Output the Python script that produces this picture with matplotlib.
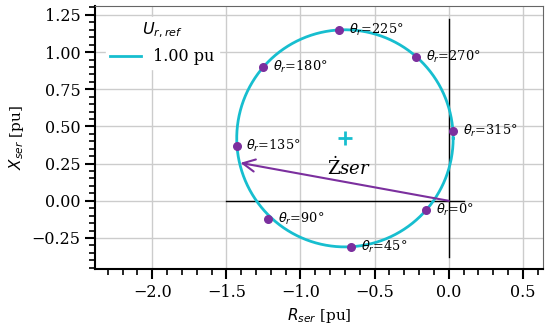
import numpy as np
import matplotlib
matplotlib.use("Agg")
import matplotlib.pyplot as plt
from matplotlib.ticker import MultipleLocator

# operating points
theta_labels = [0, 45, 90, 135, 180, 225, 270, 315]
r_points = [-0.15, -0.66, -1.22, -1.43, -1.25, -0.74, -0.22, 0.03]
x_points = [-0.06, -0.31, -0.12, 0.37, 0.90, 1.15, 0.97, 0.47]

# locus circle for U_r,ref = 1.00 pu
circle_center = (-0.70, 0.42)
circle_radius = 0.73
legend_label = "1.00 pu"

# series impedance phasor tip
z_ser_tip = (-1.405, 0.255)

plt.rcParams["font.family"] = "DejaVu Serif"
plt.rcParams["font.size"] = 10

cyan = "#17becf"
purple = "#7b2f9e"

fig = plt.figure(figsize=(5.5, 3.32), dpi=100)
ax = fig.add_axes([0.173, 0.19, 0.814, 0.792])

phi = np.linspace(0, 2 * np.pi, 400)
ax.plot(circle_center[0] + circle_radius * np.cos(phi),
        circle_center[1] + circle_radius * np.sin(phi),
        color=cyan, lw=2, label=legend_label, zorder=3)
ax.plot(*circle_center, marker="+", color=cyan, ms=10, mew=2, zorder=3)

# axes cross
ax.plot([-1.5, 0.1], [0, 0], color="black", lw=1, zorder=2)
ax.plot([0, 0], [-0.38, 1.225], color="black", lw=1, zorder=2)

ax.annotate("", xy=z_ser_tip, xytext=(0, 0),
            arrowprops=dict(arrowstyle="->", color=purple, lw=1.5,
                            mutation_scale=22, shrinkA=0, shrinkB=0),
            zorder=4)
ax.text(-0.67, 0.22, r"$\dot{\mathrm{Z}}\mathit{ser}$", fontsize=13,
        math_fontfamily="dejavuserif", ha="center", va="center")

ax.scatter(r_points, x_points, s=30, color=purple, zorder=5)
for th, r, x in zip(theta_labels, r_points, x_points):
    ax.annotate(r"$\theta_r$=%d°" % th, (r, x), xytext=(7, 0),
                textcoords="offset points", ha="left", va="center",
                fontsize=9.3, zorder=6)

ax.set_xlim(-2.385, 0.635)
ax.set_ylim(-0.458, 1.31)
ax.xaxis.set_major_locator(MultipleLocator(0.5))
ax.xaxis.set_minor_locator(MultipleLocator(0.1))
ax.yaxis.set_major_locator(MultipleLocator(0.25))
ax.yaxis.set_minor_locator(MultipleLocator(0.05))
ax.tick_params(which="major", direction="out", length=7, width=1.5,
               labelsize=11.5)
ax.tick_params(which="minor", direction="out", length=4, width=1.2)
ax.grid(True, which="major", color="#cccccc", lw=1)
ax.set_axisbelow(True)
for side in ["top", "right"]:
    ax.spines[side].set_color("#666666")
for side in ["left", "bottom"]:
    ax.spines[side].set_linewidth(1.5)

ax.set_xlabel(r"$R_{ser}$ [pu]", fontsize=11)
ax.set_ylabel(r"$X_{ser}$ [pu]", fontsize=11)

leg = ax.legend(title=r"$U_{r,ref}$", loc="upper left", fontsize=11.5,
                title_fontsize=11.5, framealpha=1, edgecolor="white",
                fancybox=False, handlelength=1.9, borderpad=0.25,
                borderaxespad=0.7)

fig.savefig("out.png", dpi=100)
